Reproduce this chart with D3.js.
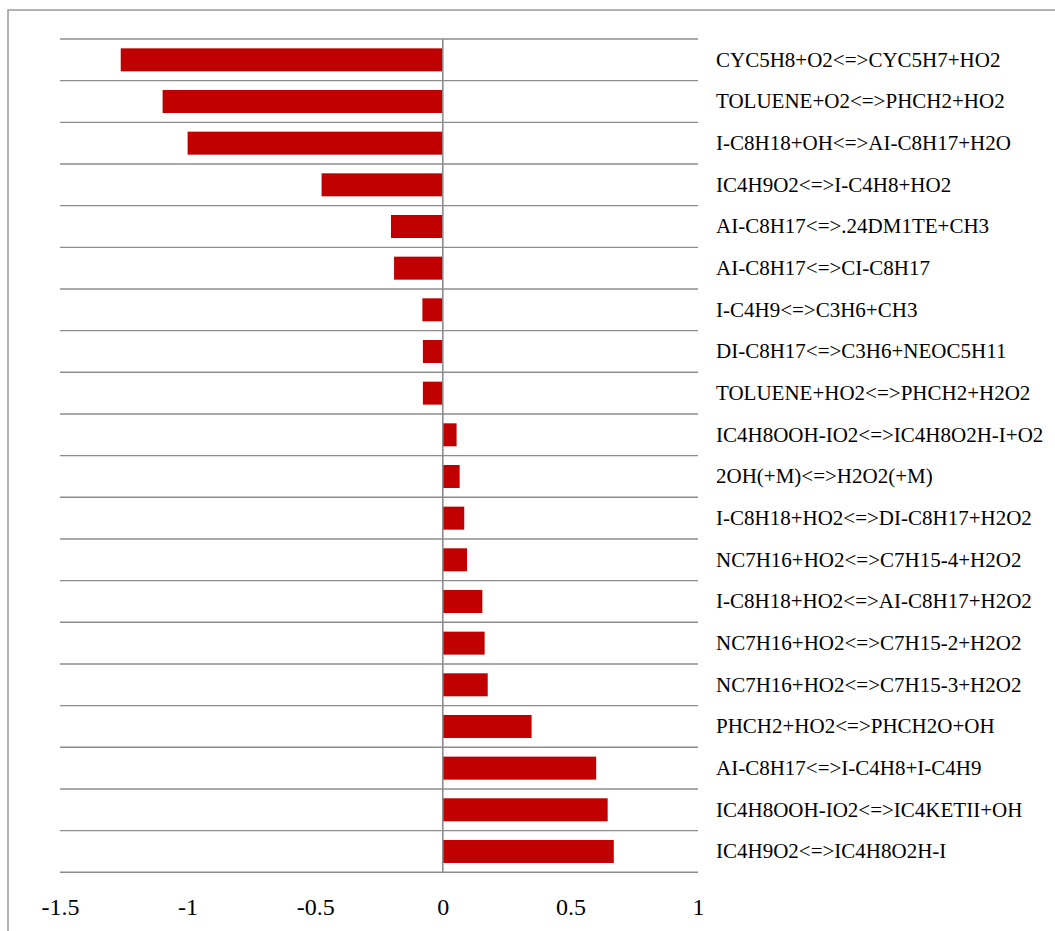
<!DOCTYPE html>
<html>
<head>
<meta charset="utf-8">
<script src="https://cdn.jsdelivr.net/npm/d3@7"></script>
<style>
  html, body { margin: 0; padding: 0; background: #fff; }
  svg { display: block; }
</style>
</head>
<body>
<svg id="chart" width="1055" height="931"></svg>
<script>
// Reactions, ordered top to bottom
const reactions = [
  "CYC5H8+O2<=>CYC5H7+HO2",
  "TOLUENE+O2<=>PHCH2+HO2",
  "I-C8H18+OH<=>AI-C8H17+H2O",
  "IC4H9O2<=>I-C4H8+HO2",
  "AI-C8H17<=>.24DM1TE+CH3",
  "AI-C8H17<=>CI-C8H17",
  "I-C4H9<=>C3H6+CH3",
  "DI-C8H17<=>C3H6+NEOC5H11",
  "TOLUENE+HO2<=>PHCH2+H2O2",
  "IC4H8OOH-IO2<=>IC4H8O2H-I+O2",
  "2OH(+M)<=>H2O2(+M)",
  "I-C8H18+HO2<=>DI-C8H17+H2O2",
  "NC7H16+HO2<=>C7H15-4+H2O2",
  "I-C8H18+HO2<=>AI-C8H17+H2O2",
  "NC7H16+HO2<=>C7H15-2+H2O2",
  "NC7H16+HO2<=>C7H15-3+H2O2",
  "PHCH2+HO2<=>PHCH2O+OH",
  "AI-C8H17<=>I-C4H8+I-C4H9",
  "IC4H8OOH-IO2<=>IC4KETII+OH",
  "IC4H9O2<=>IC4H8O2H-I"
];

// Sensitivity coefficient of each reaction
const sensitivity = [
  -1.262, -1.098, -1.000, -0.475, -0.203, -0.191, -0.080, -0.078, -0.078,
  0.054, 0.066, 0.084, 0.095, 0.155, 0.164, 0.176, 0.348, 0.601, 0.646, 0.670
];

// Axis ticks
const xTicks = [-1.5, -1, -0.5, 0, 0.5, 1];

const svg = d3.select("#chart");
const serif = "'Liberation Serif', 'Times New Roman', Times, serif";

// Outer chart frame
svg.append("rect")
  .attr("x", 8).attr("y", 10)
  .attr("width", 1060).attr("height", 940)
  .attr("fill", "#fff")
  .attr("stroke", "#999").attr("stroke-width", 1.5);

const x = d3.scaleLinear().domain([-1.5, 1]).range([60, 698]);
const y = d3.scaleBand().domain(reactions).range([39, 872.3]).paddingInner(0).paddingOuter(0);
const step = y.step();
const barH = step * 0.552;

// Horizontal row separators
const gridYs = reactions.map(r => y(r)).concat([y.range()[1]]);
svg.append("g")
  .selectAll("line")
  .data(gridYs)
  .join("line")
  .attr("x1", x(-1.5)).attr("x2", x(1))
  .attr("y1", d => d).attr("y2", d => d)
  .attr("stroke", "#8c8c8c").attr("stroke-width", 1.4);

// Bars
const data = reactions.map((r, i) => ({ r, v: sensitivity[i] }));
svg.append("g")
  .selectAll("rect")
  .data(data)
  .join("rect")
  .attr("x", d => x(Math.min(0, d.v)))
  .attr("width", d => Math.abs(x(d.v) - x(0)))
  .attr("y", d => y(d.r) + (step - barH) / 2)
  .attr("height", barH)
  .attr("fill", "#c00000");

// Zero line
svg.append("line")
  .attr("x1", x(0)).attr("x2", x(0))
  .attr("y1", y.range()[0]).attr("y2", y.range()[1])
  .attr("stroke", "#8c8c8c").attr("stroke-width", 1.6);

// Reaction labels on the right
svg.append("g")
  .selectAll("text")
  .data(reactions)
  .join("text")
  .attr("x", 716)
  .attr("y", d => y(d) + step / 2 + 7)
  .attr("font-family", serif)
  .attr("font-size", 21)
  .attr("fill", "#000")
  .text(d => d);

// X axis tick labels (no tick marks, no domain line)
const xAxis = d3.axisBottom(x).tickValues(xTicks).tickSize(0).tickPadding(0)
  .tickFormat(d => String(d));
const gx = svg.append("g")
  .attr("transform", `translate(0, ${y.range()[1]})`)
  .call(xAxis);
gx.select(".domain").remove();
gx.selectAll("text")
  .attr("dy", null)
  .attr("y", 43)
  .attr("font-family", serif)
  .attr("font-size", 24)
  .attr("fill", "#000");
</script>
</body>
</html>
